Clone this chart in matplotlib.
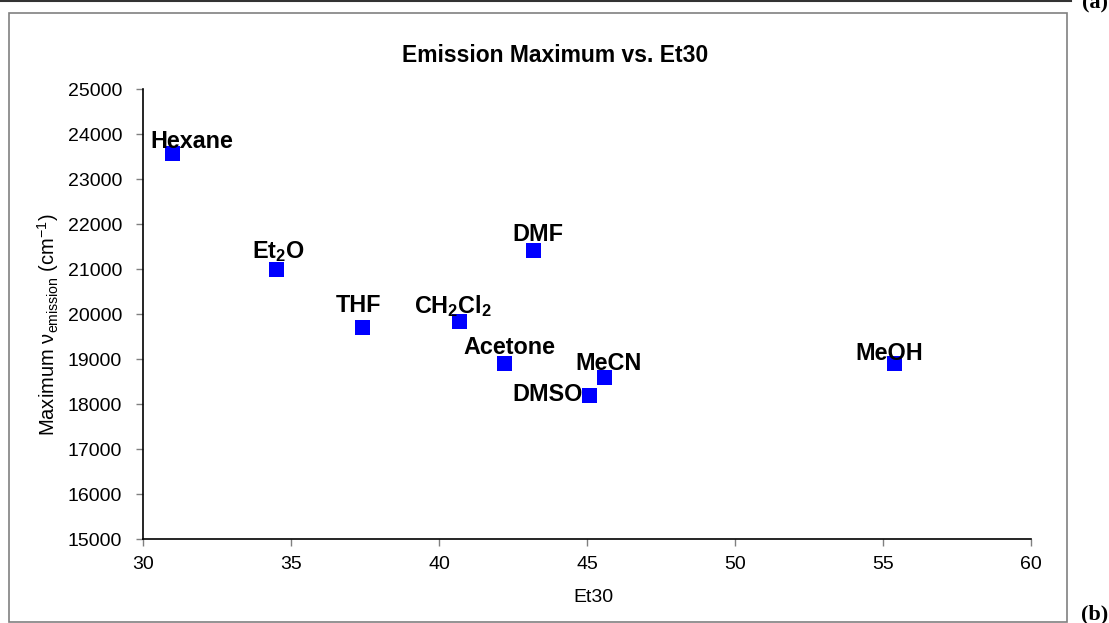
import matplotlib
matplotlib.use("Agg")
import matplotlib.pyplot as plt
from matplotlib.patches import Rectangle
from matplotlib.lines import Line2D

plt.rcParams["font.family"] = ["Liberation Sans", "DejaVu Sans"]
plt.rcParams["mathtext.fontset"] = "custom"
plt.rcParams["mathtext.rm"] = "Liberation Sans"
plt.rcParams["mathtext.it"] = "Liberation Sans:italic"
plt.rcParams["mathtext.bf"] = "Liberation Sans:bold"

# Solvent data: Reichardt Et(30) polarity vs. emission maximum
solvents = ["Hexane", r"Et$_\mathbf{2}$O", "THF", r"CH$_\mathbf{2}$Cl$_\mathbf{2}$",
            "Acetone", "DMF", "DMSO", "MeCN", "MeOH"]
et30 = [31.0, 34.5, 37.4, 40.7, 42.2, 43.2, 45.1, 45.6, 55.4]
nu_emission = [23580, 21000, 19700, 19830, 18900, 21420, 18200, 18600, 18900]

x_ticks = [30, 35, 40, 45, 50, 55, 60]
y_ticks = [15000, 16000, 17000, 18000, 19000, 20000, 21000, 22000, 23000, 24000, 25000]

# label offsets (pixels) relative to each marker
label_offsets = [(19, 5), (2, 11), (-4, 16), (-7, 9), (5, 10), (4, 9), (-42, -6), (4, 7), (-6, 4)]

W, H, DPI = 1109, 623, 100
fig = plt.figure(figsize=(W / DPI, H / DPI), dpi=DPI)
fig.patch.set_facecolor("white")

ax = fig.add_axes([143 / W, 1 - 539.3 / H, (1031 - 143) / W, (539.3 - 89.3) / H])
ax.scatter(et30, nu_emission, marker="s", s=10.8 ** 2, color="#0000FF",
           edgecolors="none", zorder=3, clip_on=False)

for name, x, y, (dx, dy) in zip(solvents, et30, nu_emission, label_offsets):
    ax.annotate(name, (x, y), xytext=(dx, dy), textcoords="offset pixels",
                ha="center", va="baseline", fontsize=16.8, fontweight="bold",
                color="black", zorder=4)

ax.set_xlim(30, 60)
ax.set_ylim(15000, 25000)
ax.set_xticks(x_ticks)
ax.set_yticks(y_ticks)
ax.tick_params(axis="both", direction="out", length=5, width=1, color="#808080",
               labelsize=14, labelcolor="black")
ax.tick_params(axis="y", pad=10)
ax.tick_params(axis="x", pad=7)
for side in ["top", "right"]:
    ax.spines[side].set_visible(False)
for side in ["left", "bottom"]:
    ax.spines[side].set_color("black")
    ax.spines[side].set_linewidth(1.2)

# chart title, centred over the chart area
fig.text(555 / W, 1 - 61.5 / H, "Emission Maximum vs. Et30", ha="center",
         va="baseline", fontsize=16.5, fontweight="bold")

ax.set_xlabel("Et30", fontsize=14)
ax.xaxis.set_label_coords(0.507, -0.14)
ax.xaxis.label.set_va("baseline")
ax.set_ylabel(r"Maximum ν$_\mathregular{emission}$ (cm$^\mathregular{-1}$)",
              fontsize=14.5)
ax.yaxis.set_label_coords(-0.092, 0.476)

# outer chart frame and page decorations
fig.add_artist(Rectangle((9 / W, 1 / H), (1067 - 9) / W, (622 - 13) / H,
                         transform=fig.transFigure, fill=False,
                         edgecolor="#808080", linewidth=1.2))
fig.add_artist(Line2D([0, 1071 / W], [1 - 1 / H, 1 - 1 / H], transform=fig.transFigure,
                      color="#333333", linewidth=1.5))
fig.text(1108 / W, 1 - 8 / H, "(a)", ha="right", va="baseline", fontsize=16,
         fontweight="bold", family="Liberation Serif")
fig.text(1108 / W, 1 - 619 / H, "(b)", ha="right", va="baseline", fontsize=16,
         fontweight="bold", family="Liberation Serif")

fig.savefig("out.png", dpi=DPI)
